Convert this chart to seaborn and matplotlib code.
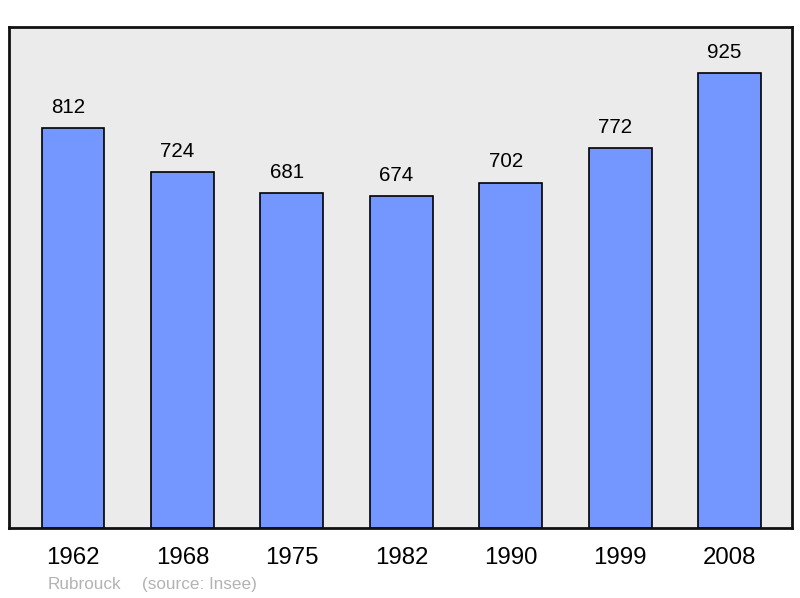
import matplotlib
matplotlib.use('Agg')
import matplotlib.pyplot as plt
import seaborn as sns
import pandas as pd

years = ['1962', '1968', '1975', '1982', '1990', '1999', '2008']
population = [812, 724, 681, 674, 702, 772, 925]
town = 'Rubrouck'
source = '(source: Insee)'

df = pd.DataFrame({'year': years, 'pop': population})

sns.set_style('white')
plt.rcParams['font.family'] = ['Liberation Sans', 'DejaVu Sans']

fig = plt.figure(figsize=(8, 5.98), dpi=100)
ax = fig.add_axes([0.01125, 0.117, 0.97875, 0.8378])
ax.set_facecolor('#ebebeb')

sns.barplot(data=df, x='year', y='pop', color='#7396ff', saturation=1,
            edgecolor='black', linewidth=1.2, width=0.575, ax=ax)

# value labels sit a little left of the bar centre in the original
for i, v in enumerate(population):
    ax.annotate(str(v), (i, v), xytext=(-3.6, 8), textcoords='offset points',
                ha='center', va='bottom', fontsize=14.8, color='black')

ax.set_xlim(-0.585, 6.57)
ax.set_ylim(0, 1018)
ax.set_yticks([])
ax.set_xlabel('')
ax.set_ylabel('')
ax.tick_params(axis='x', length=0, pad=14, labelsize=17.3, colors='black')
for s in ax.spines.values():
    s.set_visible(True)
    s.set_color('#111111')
    s.set_linewidth(2)

fig.text(48 / 800, 1 - 589 / 598, town, fontsize=12.3,
         color='#b3b3b3', ha='left', va='baseline')
fig.text(142 / 800, 1 - 589 / 598, source, fontsize=12.3,
         color='#b3b3b3', ha='left', va='baseline')

fig.savefig('out.png', dpi=100, facecolor='white')
